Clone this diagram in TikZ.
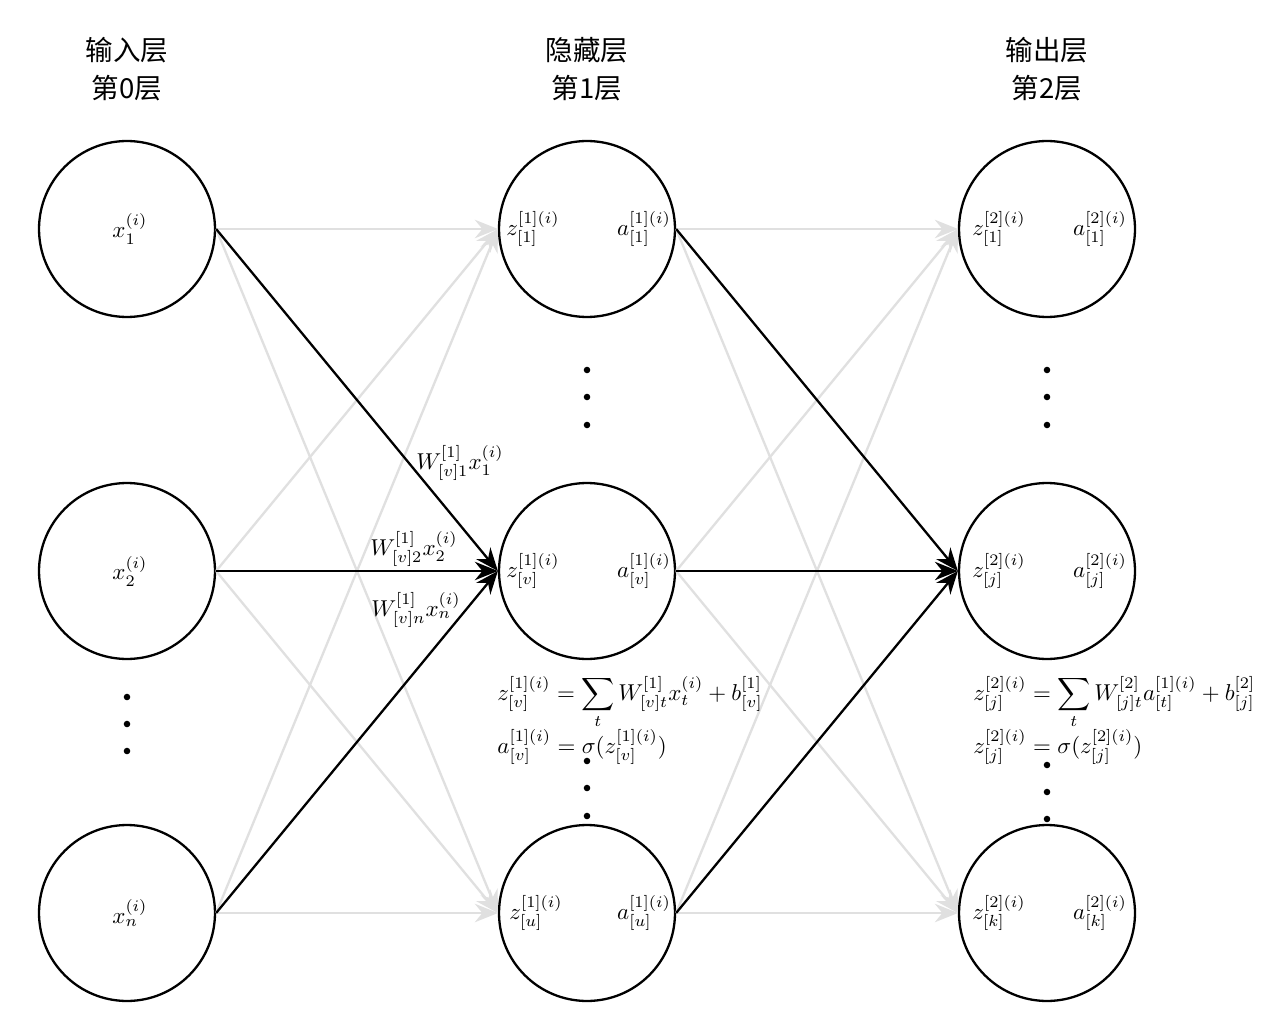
\documentclass[tikz,border=0pt]{standalone}
\usepackage{fontspec}
\newfontfamily\cjk{Noto Sans CJK SC}
\usetikzlibrary{arrows.meta}
\begin{document}
\begin{tikzpicture}[x=0.0153cm,y=-0.0153cm,
  neuron/.style={circle,draw,line width=1pt,minimum size=2.693cm,inner sep=0pt},
  dotc/.style={circle,fill,inner sep=0pt,minimum size=0.1cm},
  conn/.style={-{Stealth[length=10pt,width=8pt]},line width=1pt},
  faint/.style={conn,draw=black!12},
  strong/.style={conn,draw=black},
  title/.style={align=center,font={\cjk\fontsize{12}{16.5}\selectfont}},
  lbl/.style={inner sep=1pt}
]
\useasboundingbox[fill=white] (0,0) rectangle (1280,1027);

% titles
\node[title] (t0) at (127,69) {输入层\\第0层};
\node[title] (t1) at (587,69) {隐藏层\\第1层};
\node[title] (t2) at (1047,69) {输出层\\第2层};

% neurons
\node[neuron] (x1) at (127,229) {};
\node[neuron] (x2) at (127,571) {};
\node[neuron] (xn) at (127,913) {};
\node[neuron] (h1) at (587,229) {};
\node[neuron] (hv) at (587,571) {};
\node[neuron] (hu) at (587,913) {};
\node[neuron] (o1) at (1047,229) {};
\node[neuron] (oj) at (1047,571) {};
\node[neuron] (ok) at (1047,913) {};

% neuron labels
\node[lbl] (lx1) at (130,229) {$x_1^{(i)}$};
\node[lbl] (lx2) at (130,571) {$x_2^{(i)}$};
\node[lbl] (lxn) at (130,913) {$x_n^{(i)}$};
\node[lbl] (zh1) at (533,229) {$z_{[1]}^{[1](i)}$};
\node[lbl] (ah1) at (644,229) {$a_{[1]}^{[1](i)}$};
\node[lbl] (zhv) at (533,571) {$z_{[v]}^{[1](i)}$};
\node[lbl] (ahv) at (644,571) {$a_{[v]}^{[1](i)}$};
\node[lbl] (zhu) at (536,913) {$z_{[u]}^{[1](i)}$};
\node[lbl] (ahu) at (644,913) {$a_{[u]}^{[1](i)}$};
\node[lbl] (zo1) at (999,229) {$z_{[1]}^{[2](i)}$};
\node[lbl] (ao1) at (1100,229) {$a_{[1]}^{[2](i)}$};
\node[lbl] (zoj) at (999,571) {$z_{[j]}^{[2](i)}$};
\node[lbl] (aoj) at (1100,571) {$a_{[j]}^{[2](i)}$};
\node[lbl] (zok) at (999,913) {$z_{[k]}^{[2](i)}$};
\node[lbl] (aok) at (1100,913) {$a_{[k]}^{[2](i)}$};

% dots
\node[dotc] (di1) at (127,697) {};
\node[dotc] (di2) at (127,724) {};
\node[dotc] (di3) at (127,751) {};
\node[dotc] (dh1) at (587,370) {};
\node[dotc] (dh2) at (587,397) {};
\node[dotc] (dh3) at (587,425) {};
\node[dotc] (dh4) at (587,761) {};
\node[dotc] (dh5) at (587,788) {};
\node[dotc] (dh6) at (587,816) {};
\node[dotc] (do1) at (1047,370) {};
\node[dotc] (do2) at (1047,397) {};
\node[dotc] (do3) at (1047,425) {};
\node[dotc] (do4) at (1047,765) {};
\node[dotc] (do5) at (1047,792) {};
\node[dotc] (do6) at (1047,819) {};

% faint connections
\foreach \a in {x1,x2,xn}{
  \foreach \b in {h1,hu}{
    \draw[faint] (\a.east) -- (\b.west);
  }
}
\foreach \a in {h1,hv,hu}{
  \foreach \b in {o1,ok}{
    \draw[faint] (\a.east) -- (\b.west);
  }
}
% strong connections
\foreach \a in {x1,x2,xn}{
  \draw[strong] (\a.east) -- (hv.west);
}
\foreach \a in {h1,hv,hu}{
  \draw[strong] (\a.east) -- (oj.west);
}

% weight labels
\node[lbl] (w1) at (460,463) {$W_{[v]1}^{[1]}x_1^{(i)}$};
\node[lbl] (w2) at (414,549) {$W_{[v]2}^{[1]}x_2^{(i)}$};
\node[lbl] (wn) at (416,610) {$W_{[v]n}^{[1]}x_n^{(i)}$};

% formulas
\node[anchor=base west,inner sep=0pt] (fh1) at (497,700) {$\displaystyle z_{[v]}^{[1](i)} = \sum_t W_{[v]t}^{[1]} x_t^{(i)} + b_{[v]}^{[1]}$};
\node[anchor=base west,inner sep=0pt] (fh2) at (497,753) {$a_{[v]}^{[1](i)} = \sigma(z_{[v]}^{[1](i)})$};
\node[anchor=base west,inner sep=0pt] (fo1) at (973,700) {$\displaystyle z_{[j]}^{[2](i)} = \sum_t W_{[j]t}^{[2]} a_{[t]}^{[1](i)} + b_{[j]}^{[2]}$};
\node[anchor=base west,inner sep=0pt] (fo2) at (973,753) {$z_{[j]}^{[2](i)} = \sigma(z_{[j]}^{[2](i)})$};
\end{tikzpicture}
\end{document}
